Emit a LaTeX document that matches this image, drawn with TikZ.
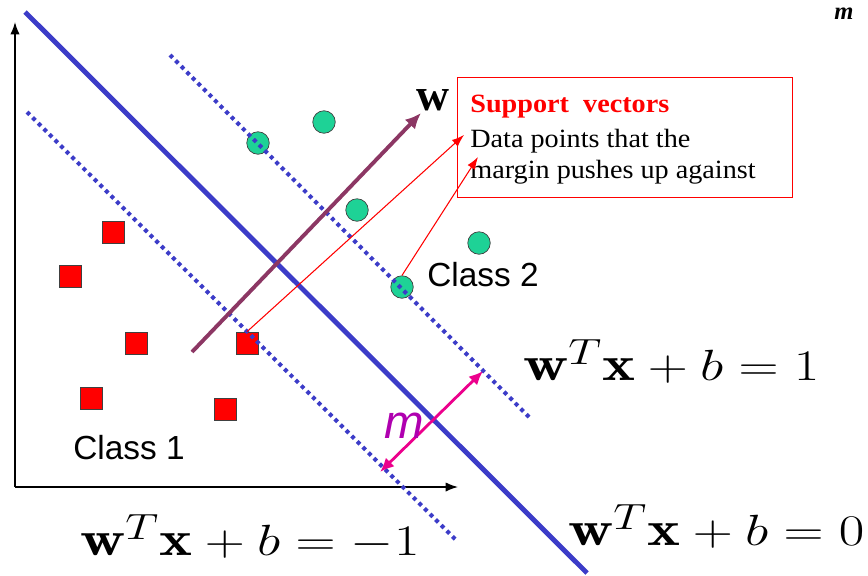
\documentclass[tikz,border=0pt]{standalone}
\usepackage{graphicx}
\usepackage{fontspec}
\setsansfont{Liberation Sans}
\newfontfamily\boxfont{Liberation Serif}
\usetikzlibrary{positioning,arrows.meta}

\definecolor{hyperblue}{RGB}{60,60,200}
\definecolor{wpurple}{RGB}{140,55,100}
\definecolor{svgreen}{RGB}{30,210,150}
\definecolor{mpurple}{RGB}{175,0,175}

\newcommand{\wideeq}[1]{\scalebox{1.27}[1]{$#1$}}
\newcommand{\widetxt}[1]{\scalebox{1.07}[1]{#1}}

\begin{document}
\begin{tikzpicture}[x=0.02cm, y=-0.02cm,
    redpt/.style={draw=black!75, fill=red, minimum size=0.44cm, inner sep=0pt},
    greenpt/.style={circle, draw=black!75, fill=svgreen, minimum size=0.45cm, inner sep=0pt},
    marginline/.style={hyperblue, line width=2.3pt, dash pattern=on 2.2pt off 2.3pt},
    eqn/.style={font=\fontsize{28}{32}\selectfont, anchor=base west, inner sep=0pt},
    classlbl/.style={font=\sffamily\fontsize{19}{22}\selectfont, anchor=base west, inner sep=0pt},
    boxtext/.style={font=\boxfont\fontsize{15}{18}\selectfont, anchor=base west, inner sep=0pt}]

    \useasboundingbox (0,0) rectangle (868,575);

    % axes
    \coordinate (O) at (15,487);
    \coordinate (ytop) at (15,22);
    \coordinate (xend) at (458,487);
    \draw[-{Latex[length=7pt]}, line width=0.8pt] (O) -- (ytop);
    \draw[-{Latex[length=7pt]}, line width=0.8pt] (O) -- (xend);

    % class 1
    \node[redpt] (s1) at (113,232) {};
    \node[redpt] (s2) at (70,276) {};
    \node[redpt] (s3) at (136,343) {};
    \node[redpt] (s4) at (247,343) {};
    \node[redpt] (s5) at (91,398) {};
    \node[redpt] (s6) at (225,409) {};

    % class 2
    \node[greenpt] (c1) at (258,143) {};
    \node[greenpt] (c2) at (324,122) {};
    \node[greenpt] (c3) at (357,210) {};
    \node[greenpt] (c4) at (479,243) {};
    \node[greenpt] (c5) at (402,287) {};

    % hyperplane and margins
    \coordinate (h0a) at (25,12);
    \coordinate (h0b) at (587,573);
    \coordinate (hpa) at (170,55);
    \coordinate (hpb) at (530,418);
    \coordinate (hma) at (27,112);
    \coordinate (hmb) at (456,540);
    \draw[marginline] (hpa) -- (hpb);
    \draw[marginline] (hma) -- (hmb);
    \draw[hyperblue, line width=2.8pt] (h0a) -- (h0b);

    % normal vector
    \coordinate (wtail) at (192,352);
    \coordinate (whead) at (421,113);
    \draw[wpurple, line width=2.2pt, -{Latex[length=9pt,width=8pt]}] (wtail) -- (whead);
    \node[font=\boxfont\bfseries\fontsize{26}{30}\selectfont, inner sep=0pt] (wlbl) at (433,100) {w};

    % support vector box
    \node[draw=red, line width=0.8pt, minimum width=6.7cm, minimum height=2.4cm,
        anchor=north west, inner sep=0pt] (svbox) at (457,77) {};
    \node[boxtext, font=\boxfont\bfseries\fontsize{15}{18}\selectfont, text=red] (svtitle) at (470,112) {\widetxt{Support\ \ vectors}};
    \node[boxtext] (svline1) at (470,147) {\widetxt{Data points that the}};
    \node[boxtext] (svline2) at (470,178) {\widetxt{margin pushes up against}};

    \coordinate (svtip1) at (464,135);
    \coordinate (svtip2) at (478,157);
    \draw[red, line width=0.6pt, -{Latex[length=7pt,width=5pt]}] (s4.north) -- (svtip1);
    \draw[red, line width=0.6pt, -{Latex[length=7pt,width=5pt]}] (c5.north) -- (svtip2);

    % margin width
    \coordinate (mlow) at (380,472);
    \coordinate (mhigh) at (483,371);
    \draw[magenta, line width=1.6pt, {Latex[length=8pt,width=7pt]}-{Latex[length=8pt,width=7pt]}] (mlow) -- (mhigh);
    \node[font=\sffamily\itshape\fontsize{27}{30}\selectfont, text=mpurple, inner sep=0pt, anchor=base] (mlbl) at (404,438) {m};

    % labels
    \node[classlbl] (cls1) at (73,459) {Class 1};
    \node[classlbl] (cls2) at (427,286) {Class 2};

    \node[eqn] (eqplus) at (523,380) {\wideeq{\mathbf{w}^T\mathbf{x}+b=1}};
    \node[eqn] (eqzero) at (568,545) {\wideeq{\mathbf{w}^T\mathbf{x}+b=0}};
    \node[eqn] (eqminus) at (80,555) {\wideeq{\mathbf{w}^T\mathbf{x}+b=-1}};

    \node[font=\boxfont\bfseries\itshape\fontsize{14}{16}\selectfont, anchor=base west, inner sep=0pt] (cut) at (834,19) {m};

\end{tikzpicture}
\end{document}
